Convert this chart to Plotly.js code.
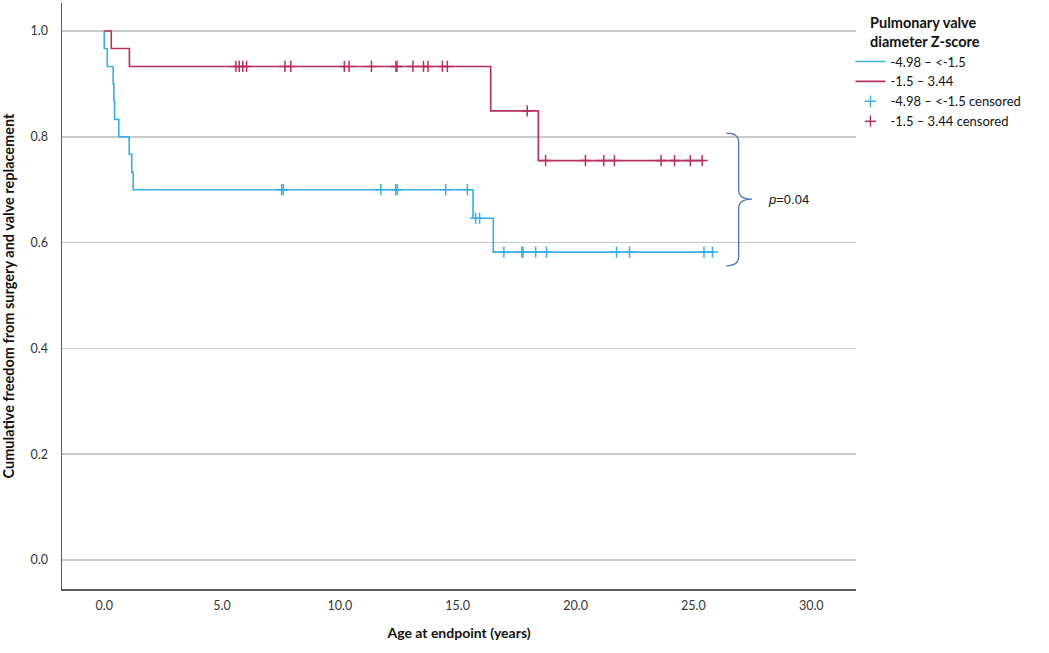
<!DOCTYPE html>
<html>
<head>
<meta charset="utf-8">
<script src="https://cdn.plot.ly/plotly-3.0.1.min.js"></script>
<style>
  html, body { margin: 0; padding: 0; background: #fff; }
  #plotlyChart { width: 1049px; height: 653px; }
</style>
</head>
<body>
<div id="plotlyChart"></div>
<script>
// group 1: Z-score -4.98 to <-1.5
let blueEventT = [0.0, 0.13, 0.38, 0.41, 0.44, 0.62, 1.06, 1.17, 1.23, 15.65, 16.51];
let blueEventS = [0.967, 0.933, 0.9, 0.867, 0.833, 0.8, 0.767, 0.733, 0.7, 0.646, 0.582];
let blueCensT = [7.53, 7.6, 11.74, 12.37, 12.44, 14.49, 15.41, 15.76, 15.93, 16.96, 17.72, 17.77, 18.31, 18.77, 21.74, 22.29, 25.45, 25.81];
let blueEnd = 25.88;

// group 2: Z-score -1.5 to 3.44
let redEventT = [0.3, 1.07, 16.4, 18.42];
let redEventS = [0.967, 0.933, 0.849, 0.755];
let redCensT = [5.59, 5.73, 5.88, 6.04, 7.67, 7.92, 10.19, 10.39, 11.34, 12.38, 12.42, 13.1, 13.55, 13.74, 14.35, 14.56, 17.95, 18.73, 20.42, 21.2, 21.65, 23.63, 24.2, 24.87, 25.37];
let redEnd = 25.45;

let groupNames = ['-4.98 \u2013 <-1.5', '-1.5 \u2013 3.44'];
let line_colors = ['#38b0e6', '#b5305e'];
let font = 'Lato, "Open Sans", sans-serif';

function stepLine(ts, ss, end) {
  let x = [0], y = [1];
  for (let i = 0; i < ts.length; ++i) {
    x.push(ts[i]);
    y.push(ss[i]);
  }
  x.push(end);
  y.push(ss[ss.length - 1]);
  return { x: x, y: y };
}

function levelAt(ts, ss, t) {
  let s = 1;
  for (let i = 0; i < ts.length; ++i) if (ts[i] <= t) s = ss[i];
  return s;
}

let blueLine = stepLine(blueEventT, blueEventS, blueEnd);
let redLine = stepLine(redEventT, redEventS, redEnd);

let marker = {
  symbol: 'cross-thin-open',
  size: 8,
};

let data = [
  {
    x: blueLine.x,
    y: blueLine.y,
    type: 'scatter',
    mode: 'lines',
    line: { shape: 'hv', color: line_colors[0], width: 1.6 },
    name: groupNames[0],
  },
  {
    x: redLine.x,
    y: redLine.y,
    type: 'scatter',
    mode: 'lines',
    line: { shape: 'hv', color: line_colors[1], width: 1.6 },
    name: groupNames[1],
  },
  {
    x: blueCensT,
    y: blueCensT.map(t => levelAt(blueEventT, blueEventS, t)),
    type: 'scatter',
    mode: 'markers',
    marker: { ...marker, color: line_colors[0], line: { color: line_colors[0], width: 1.5 } },
    name: groupNames[0] + ' censored',
  },
  {
    x: redCensT,
    y: redCensT.map(t => levelAt(redEventT, redEventS, t)),
    type: 'scatter',
    mode: 'markers',
    marker: { ...marker, color: line_colors[1], line: { color: line_colors[1], width: 1.5 } },
    name: groupNames[1] + ' censored',
  },
];

Plotly.newPlot(
  'plotlyChart',
  data,
  {
    width: 1049,
    height: 653,
    paper_bgcolor: '#ffffff',
    plot_bgcolor: '#ffffff',
    font: { family: font, size: 12, color: '#222' },
    margin: { t: 3, r: 193, b: 64, l: 62 },
    showlegend: true,
    xaxis: {
      range: [-1.79, 31.9],
      tickvals: [0, 5, 10, 15, 20, 25, 30],
      tickformat: '.1f',
      showgrid: false,
      zeroline: false,
      showline: true,
      linecolor: '#5a5a5a',
      linewidth: 1.5,
      ticks: '',
      ticklabelstandoff: 4,
      tickfont: { family: font, size: 12.5, color: '#333' },
      title: {
        text: '<b>Age at endpoint (years)</b>',
        font: { family: font, size: 14, color: '#111' },
        standoff: 16,
      },
      automargin: false,
    },
    yaxis: {
      range: [-0.055, 1.053],
      tickvals: [0, 0.2, 0.4, 0.6, 0.8, 1.0],
      tickformat: '.1f',
      showgrid: true,
      gridcolor: '#c9c9c9',
      gridwidth: 1.5,
      zeroline: false,
      showline: true,
      linecolor: '#5a5a5a',
      linewidth: 1.5,
      ticks: '',
      ticklabelstandoff: 10,
      tickfont: { family: font, size: 12.5, color: '#333' },
      title: {
        text: '<b>Cumulative freedom from surgery and valve replacement</b>',
        font: { family: font, size: 14.5, color: '#111' },
        standoff: 12,
      },
      automargin: false,
    },
    legend: {
      x: 0.993,
      xanchor: 'left',
      y: 0.99,
      yanchor: 'top',
      bgcolor: 'rgba(0,0,0,0)',
      font: { family: font, size: 13, color: '#111' },
      title: {
        text: '<b>\u00a0\u00a0\u00a0\u00a0\u00a0Pulmonary valve<br>\u00a0\u00a0\u00a0\u00a0\u00a0diameter Z-score</b>',
        font: { family: font, size: 14.5, color: '#111' },
      },
      tracegroupgap: 0,
    },
    shapes: [
      {
        type: 'path',
        xref: 'x',
        yref: 'y',
        path: 'M 26.4 0.807 Q 26.92 0.807 26.92 0.79 L 26.92 0.70 Q 26.92 0.682 27.49 0.682 Q 26.92 0.682 26.92 0.664 L 26.92 0.574 Q 26.92 0.556 26.4 0.556',
        line: { color: '#4a74c0', width: 1.3 },
      },
    ],
    annotations: [
      {
        x: 28.1,
        y: 0.682,
        xref: 'x',
        yref: 'y',
        xanchor: 'left',
        yanchor: 'middle',
        text: '<i>p</i>=0.04',
        showarrow: false,
        font: { family: '"Liberation Sans", Arial, sans-serif', size: 13, color: '#111' },
      },
    ],
  },
  {
    staticPlot: true,
  }
);
</script>
</body>
</html>
